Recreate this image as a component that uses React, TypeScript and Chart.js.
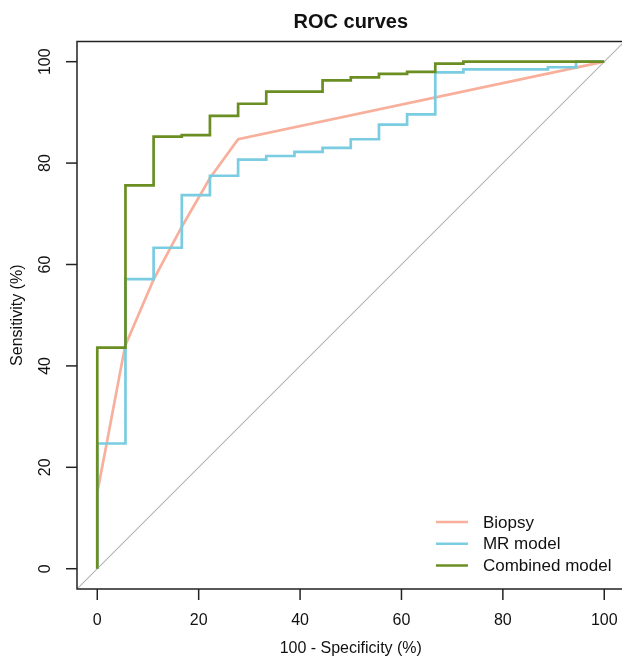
import React, { useEffect, useRef } from "react";
import { Chart, registerables } from "chart.js";

Chart.register(...registerables);

const titleText = "ROC curves";
const xTitle = "100 - Specificity (%)";
const yTitle = "Sensitivity (%)";
const xTicks = [0, 20, 40, 60, 80, 100];
const yTicks = [0, 20, 40, 60, 80, 100];

const seriesNames = ["Biopsy", "MR model", "Combined model"];
const seriesColors = ["#F8B09C", "#7ACCE0", "#6B8E23"];

const biopsyFPR = [0, 0, 2, 5.5, 8, 11.1, 16.7, 22.2, 27.78, 100];
const biopsyTPR = [0, 15, 25.5, 44, 49.8, 57, 67.5, 77, 84.7, 100];

const mrFPR = [0, 0, 5.56, 5.56, 11.11, 11.11, 16.67, 16.67, 22.22, 22.22, 27.78, 27.78, 33.33, 33.33, 38.89, 38.89, 44.44, 44.44, 50, 50, 55.56, 55.56, 61.11, 61.11, 66.67, 66.67, 72.22, 72.22, 88.89, 88.89, 94.44, 94.44, 100];
const mrTPR = [0, 24.7, 24.7, 57.1, 57.1, 63.3, 63.3, 73.7, 73.7, 77.5, 77.5, 80.7, 80.7, 81.4, 81.4, 82.2, 82.2, 83.0, 83.0, 84.7, 84.7, 87.6, 87.6, 89.6, 89.6, 97.9, 97.9, 98.5, 98.5, 98.9, 98.9, 100, 100];

const combFPR = [0, 0, 5.56, 5.56, 11.11, 11.11, 16.67, 16.67, 22.22, 22.22, 27.78, 27.78, 33.33, 33.33, 44.44, 44.44, 50, 50, 55.56, 55.56, 61.11, 61.11, 66.67, 66.67, 72.22, 72.22, 100];
const combTPR = [0, 43.6, 43.6, 75.6, 75.6, 85.2, 85.2, 85.5, 85.5, 89.3, 89.3, 91.7, 91.7, 94.1, 94.1, 96.3, 96.3, 96.9, 96.9, 97.6, 97.6, 98.0, 98.0, 99.6, 99.6, 100, 100];

const diagX = [-4, 104];
const diagY = [-4, 104];

const toPts = (xs: number[], ys: number[]) => xs.map((x, i) => ({ x, y: ys[i] }));

const FONT = '"Liberation Sans", Arial, sans-serif';

const overlayPlugin = {
  id: "rOverlay",
  afterDraw(chart: any) {
    const ctx = chart.ctx as CanvasRenderingContext2D;
    const { left, right, top, bottom } = chart.chartArea;
    const xs = chart.scales.x;
    const ys = chart.scales.y;
    ctx.save();
    ctx.strokeStyle = "#222";
    ctx.lineWidth = 1.5;
    // box (right edge falls outside canvas)
    ctx.beginPath();
    ctx.moveTo(right + 2, top);
    ctx.lineTo(left, top);
    ctx.lineTo(left, bottom);
    ctx.lineTo(right + 2, bottom);
    ctx.stroke();

    // x ticks
    ctx.fillStyle = "#111";
    ctx.font = `16px ${FONT}`;
    ctx.textAlign = "center";
    ctx.textBaseline = "middle";
    xTicks.forEach((v) => {
      const px = xs.getPixelForValue(v);
      ctx.beginPath();
      ctx.moveTo(px, bottom);
      ctx.lineTo(px, bottom + 11);
      ctx.stroke();
      ctx.fillText(String(v), px, bottom + 32);
    });
    // y ticks
    yTicks.forEach((v) => {
      const py = ys.getPixelForValue(v);
      ctx.beginPath();
      ctx.moveTo(left, py);
      ctx.lineTo(left - 11, py);
      ctx.stroke();
      ctx.save();
      ctx.translate(left - 31, py);
      ctx.rotate(-Math.PI / 2);
      ctx.fillText(String(v), 0, 0);
      ctx.restore();
    });
    // axis titles
    const cx = (xs.getPixelForValue(-4) + xs.getPixelForValue(104)) / 2;
    ctx.fillText(xTitle, cx, bottom + 60);
    ctx.save();
    ctx.translate(18, (top + bottom) / 2);
    ctx.rotate(-Math.PI / 2);
    ctx.fillText(yTitle, 0, 0);
    ctx.restore();
    // title
    ctx.font = `bold 20px ${FONT}`;
    ctx.fillText(titleText, cx, 22);

    // legend
    ctx.font = `17px ${FONT}`;
    ctx.textAlign = "left";
    const lx = xs.getPixelForValue(66.8);
    const ly0 = ys.getPixelForValue(9.2);
    seriesNames.forEach((name, i) => {
      const y = ly0 + i * 21.7;
      ctx.strokeStyle = seriesColors[i];
      ctx.lineWidth = 2.5;
      ctx.beginPath();
      ctx.moveTo(lx, y);
      ctx.lineTo(lx + 32, y);
      ctx.stroke();
      ctx.fillStyle = "#111";
      ctx.fillText(name, lx + 47, y + 1);
    });
    ctx.restore();
  },
};

export default function App() {
  const ref = useRef<HTMLCanvasElement>(null);
  useEffect(() => {
    if (!ref.current) return;
    const common = { showLine: true, pointRadius: 0, borderWidth: 2.7, tension: 0, fill: false };
    const chart = new Chart(ref.current, {
      type: "scatter",
      data: {
        datasets: [
          { ...common, label: "diag", data: toPts(diagX, diagY), borderColor: "#B4B4B4", borderWidth: 1.1, order: 4 },
          { ...common, label: seriesNames[0], data: toPts(biopsyFPR, biopsyTPR), borderColor: seriesColors[0], order: 3 },
          { ...common, label: seriesNames[1], data: toPts(mrFPR, mrTPR), borderColor: seriesColors[1], order: 2 },
          { ...common, label: seriesNames[2], data: toPts(combFPR, combTPR), borderColor: seriesColors[2], order: 1 },
        ],
      },
      options: {
        responsive: false,
        animation: false,
        layout: { padding: { left: 77, top: 41.4, right: 0, bottom: 70 } },
        plugins: { legend: { display: false }, tooltip: { enabled: false }, title: { display: false } },
        scales: {
          x: { type: "linear", min: -4, max: 103.5, display: false },
          y: { type: "linear", min: -4, max: 104, display: false },
        },
      },
      plugins: [overlayPlugin],
    });
    return () => chart.destroy();
  }, []);
  return (
    <div style={{ position: "absolute", left: 0, top: 0, width: 622, height: 659, background: "#fff" }}>
      <canvas ref={ref} width={622} height={659} />
    </div>
  );
}
